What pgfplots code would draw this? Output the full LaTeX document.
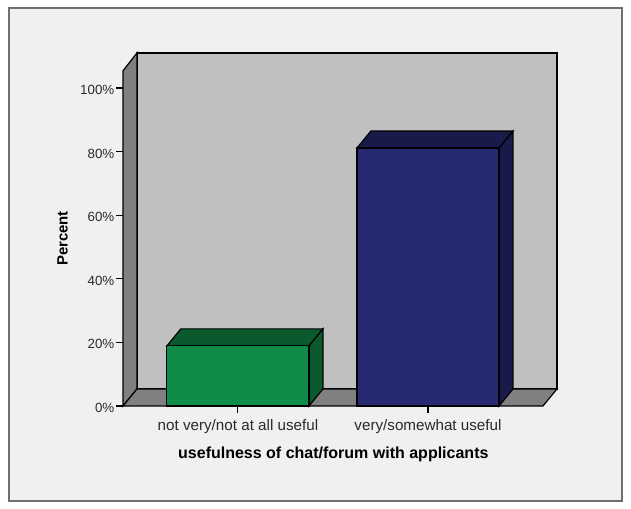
\documentclass[border=0pt]{standalone}
\usepackage{pgfplots}
\pgfplotsset{compat=1.18}
\usepackage{fontspec}
\setmainfont{Liberation Sans}
\definecolor{pagebg}{HTML}{F0F0F0}
\definecolor{framec}{HTML}{6E6E6E}
\definecolor{wall}{HTML}{C0C0C0}
\definecolor{side}{HTML}{808080}
\definecolor{greenF}{HTML}{0F8C48}
\definecolor{greenS}{HTML}{0A5A2E}
\definecolor{blueF}{HTML}{262A73}
\definecolor{blueS}{HTML}{181A4A}
\definecolor{labelc}{HTML}{2A2A2A}
\begin{document}
\begin{tikzpicture}[x=0.75pt,y=0.75pt]
\useasboundingbox (0,0) rectangle (631,509);
\fill[white] (0,0) rectangle (631,509);
\fill[pagebg,draw=framec,line width=0.9pt] (9,8) rectangle (622,501);
\begin{axis}[
  at={(92.25pt,77.25pt)},anchor=south west,
  scale only axis,width=325.5pt,height=264.75pt,
  xmin=-0.605,xmax=1.679,ymin=0,ymax=111,
  clip=false,
  axis x line*=bottom,axis y line*=left,
  axis line style={draw=none,-},
  xtick={0,1},xticklabels={not very/not at all useful,very/somewhat useful},
  ytick={0,20,40,60,80,100},
  yticklabel={\pgfmathprintnumber{\tick}\%},
  /pgf/number format/assume math mode=true,
  tick align=outside,
  major tick length=5.2pt,
  tick style={black,line width=0.8pt},
  xticklabel style={font=\fontsize{11.4}{13}\selectfont,text=labelc,yshift=-1.2pt},
  yticklabel style={font=\fontsize{10}{12}\selectfont,text=labelc,xshift=2.2pt,yshift=-1.5pt},
  xlabel={\textbf{usefulness of chat/forum with applicants}},
  ylabel={\textbf{Percent}},
  xlabel style={font=\fontsize{12}{14}\selectfont,text=black,xshift=-5pt,yshift=-3.5pt},
  ylabel style={font=\fontsize{11.2}{14}\selectfont,text=black,xshift=-6.75pt,yshift=2.5pt},
]
\addplot[fill=wall,draw=black,line width=0.9pt] coordinates {(-0.5316,5.35) (1.679,5.35) (1.679,111) (-0.5316,111)} -- cycle;
\addplot[fill=side,draw=black,line width=0.9pt] coordinates {(-0.605,0) (-0.5316,5.35) (-0.5316,111) (-0.605,105.4)} -- cycle;
\addplot[fill=side,draw=black,line width=0.9pt] coordinates {(-0.605,0) (1.605,0) (1.679,5.35) (-0.5316,5.35)} -- cycle;
\addplot[fill=greenS,draw=black,line width=0.9pt] coordinates {(-0.374,18.9) (0.374,18.9) (0.4474,24.25) (-0.3006,24.25)} -- cycle;
\addplot[fill=greenS,draw=black,line width=0.9pt] coordinates {(0.374,0) (0.4474,5.35) (0.4474,24.25) (0.374,18.9)} -- cycle;
\addplot[fill=greenF,draw=black,line width=0.9pt] coordinates {(-0.374,0) (0.374,0) (0.374,18.9) (-0.374,18.9)} -- cycle;
\addplot[fill=blueS,draw=black,line width=0.9pt] coordinates {(0.626,81.1) (1.374,81.1) (1.4474,86.45) (0.6994,86.45)} -- cycle;
\addplot[fill=blueS,draw=black,line width=0.9pt] coordinates {(1.374,0) (1.4474,5.35) (1.4474,86.45) (1.374,81.1)} -- cycle;
\addplot[fill=blueF,draw=black,line width=0.9pt] coordinates {(0.626,0) (1.374,0) (1.374,81.1) (0.626,81.1)} -- cycle;
\end{axis}
\end{tikzpicture}
\end{document}
